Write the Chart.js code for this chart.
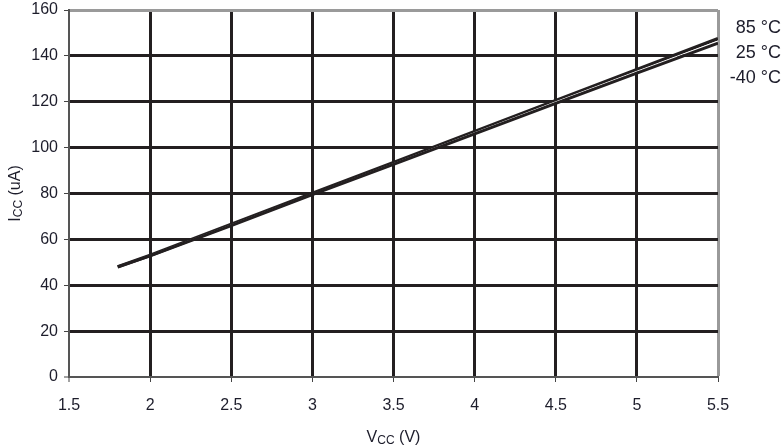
<!DOCTYPE html>
<html>
<head>
<meta charset="utf-8">
<script src="https://cdn.jsdelivr.net/npm/chart.js@4"></script>
<style>
  html, body { margin: 0; padding: 0; background: #fff; }
  #wrap { width: 784px; height: 445px; }
</style>
</head>
<body>
<div id="wrap"><canvas id="iccChart"></canvas></div>
<script>
// supply voltage (V)
let vcc = [1.8, 2.0, 2.5, 3.0, 3.5, 4.0, 4.5, 5.0, 5.5];
// supply current (uA) per temperature
let icc85 = [48, 53, 66.5, 80, 93.5, 107, 120.5, 134, 147.5];
let icc25 = [48, 53, 66.3, 79.7, 93, 106.5, 120, 133.3, 146.5];
let iccM40 = [48, 52.8, 66, 79.5, 92.7, 106, 119.3, 132.5, 145.5];
let seriesLabels = ["85 °C", "25 °C", "-40 °C"];

let textColor = "#1d1d2b";
let gridDark = "#231f20";
let fontFam = "'Liberation Sans', Arial, sans-serif";

function toPoints(ys) {
  return vcc.map((v, i) => ({ x: v, y: ys[i] }));
}

// draws axis titles with subscripts and the series labels at right
const annotations = {
  id: "annotations",
  afterDraw(chart) {
    const ctx = chart.ctx;
    const area = chart.chartArea;
    const big = "16px " + fontFam, small = "12px " + fontFam;
    ctx.save();
    ctx.fillStyle = textColor;
    ctx.textBaseline = "alphabetic";
    ctx.textAlign = "left";

    // x title: V_CC (V)
    let cx = (area.left + area.right) / 2;
    let by = 442;
    ctx.font = big;
    let wV = ctx.measureText("V").width;
    let wRest = ctx.measureText(" (V)").width;
    ctx.font = small;
    let wCC = ctx.measureText("CC").width;
    let x0 = cx - (wV + wCC + wRest) / 2;
    ctx.font = big;
    ctx.fillText("V", x0, by);
    ctx.font = small;
    ctx.fillText("CC", x0 + wV, by + 2);
    ctx.font = big;
    ctx.fillText(" (V)", x0 + wV + wCC, by);

    // y title: I_CC (uA), rotated
    ctx.save();
    ctx.translate(14, (area.top + area.bottom) / 2);
    ctx.rotate(-Math.PI / 2);
    ctx.font = big;
    let wI = ctx.measureText("I").width;
    let wRest2 = ctx.measureText(" (uA)").width;
    ctx.font = small;
    let wCC2 = ctx.measureText("CC").width;
    let y0 = -(wI + wCC2 + wRest2) / 2;
    ctx.font = big;
    ctx.fillText("I", y0, 6);
    ctx.font = small;
    ctx.fillText("CC", y0 + wI, 8);
    ctx.font = big;
    ctx.fillText(" (uA)", y0 + wI + wCC2, 6);
    ctx.restore();

    // series labels
    ctx.font = "18px " + fontFam;
    ctx.textAlign = "right";
    let ys = [33, 58, 83];
    seriesLabels.forEach((t, i) => ctx.fillText(t, 781, ys[i]));
    ctx.restore();
  }
};

new Chart(document.getElementById("iccChart").getContext("2d"), {
  type: "line",
  data: {
    datasets: [
      { label: seriesLabels[2], data: toPoints(iccM40), borderColor: gridDark, borderWidth: 3, pointRadius: 0 },
      { label: seriesLabels[1], data: toPoints(icc25), borderColor: "#ffffff", borderWidth: 1, pointRadius: 0 },
      { label: seriesLabels[0], data: toPoints(icc85), borderColor: gridDark, borderWidth: 3.5, pointRadius: 0 },
    ],
  },
  options: {
    responsive: true,
    maintainAspectRatio: false,
    animation: false,
    layout: { padding: { top: 10, right: 66, left: 0, bottom: 0 } },
    plugins: {
      legend: { display: false },
      tooltip: { enabled: false },
    },
    scales: {
      x: {
        type: "linear",
        min: 1.5,
        max: 5.5,
        afterFit(scale) { scale.height = 68; scale.paddingLeft = 0; scale.paddingRight = 0; },
        ticks: {
          stepSize: 0.5,
          color: textColor,
          padding: 14,
          font: { family: fontFam, size: 16 },
          maxRotation: 0,
          callback: (v) => String(v),
        },
        border: { display: true, color: "#555", width: 2 },
        grid: {
          color: (c) => c.tick.value === 5.5 ? "#9a9a9a" : (c.tick.value === 1.5 ? "#555" : gridDark),
          lineWidth: (c) => c.tick.value === 1.5 ? 2 : 3,
          tickColor: "#444",
          tickWidth: 1,
          tickLength: 5,
        },
      },
      y: {
        min: 0,
        max: 160,
        afterFit(scale) { scale.width = 69; scale.paddingTop = 0; scale.paddingBottom = 0; },
        ticks: {
          stepSize: 20,
          color: textColor,
          padding: 6,
          font: { family: fontFam, size: 16 },
          callback: (v) => String(v),
        },
        border: { display: true, color: "#555", width: 2 },
        grid: {
          color: (c) => c.tick.value === 160 ? "#9a9a9a" : (c.tick.value === 0 ? "#555" : gridDark),
          lineWidth: (c) => c.tick.value === 0 ? 2 : 3,
          tickColor: "#444",
          tickWidth: 1,
          tickLength: 5,
        },
      },
    },
  },
  plugins: [annotations],
});
</script>
</body>
</html>
